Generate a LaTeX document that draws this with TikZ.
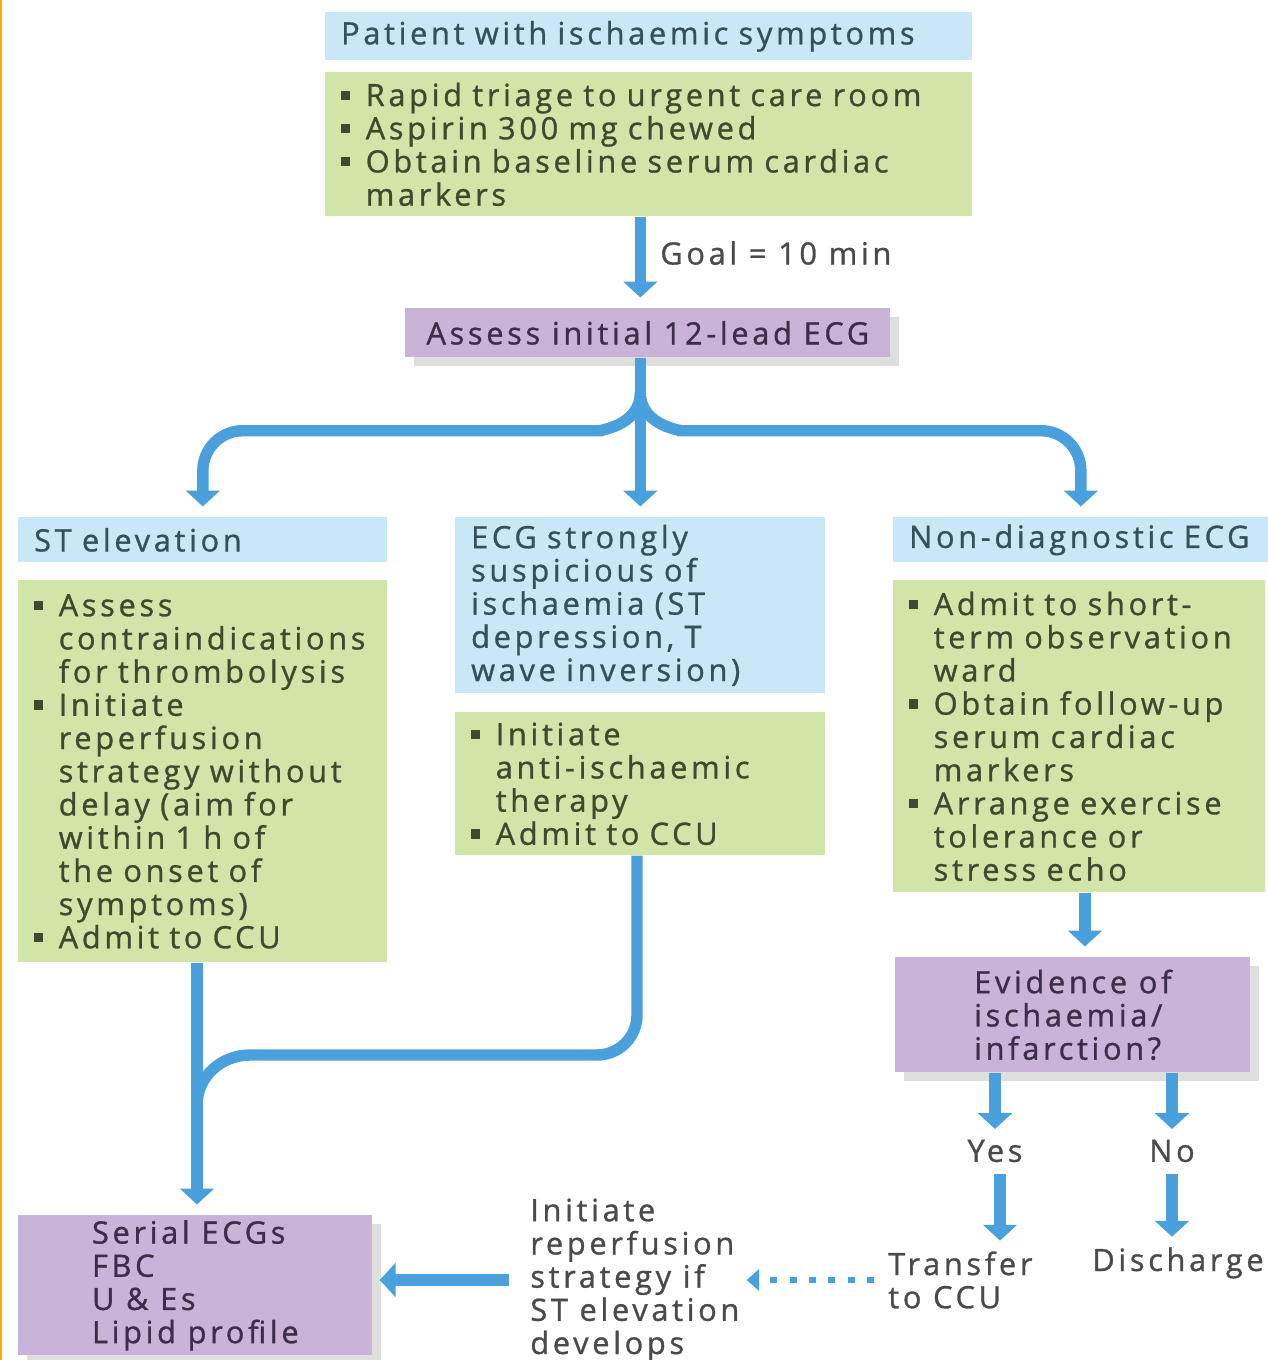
\documentclass[tikz,border=0pt]{standalone}
\usepackage{fontspec}
\setmainfont{Open Sans}[LetterSpace=12, FakeBold=1]
\usetikzlibrary{arrows.meta, calc, shadows, positioning}
\definecolor{boxblue}{HTML}{C8E7F7}
\definecolor{boxgreen}{HTML}{D2E5A9}
\definecolor{boxpurple}{HTML}{C9B3D8}
\definecolor{flowblue}{HTML}{4A9FDD}
\definecolor{inkblue}{HTML}{34505C}
\definecolor{inkgreen}{HTML}{3E4A2E}
\definecolor{inkpurple}{HTML}{3C2D48}
\definecolor{inkgrey}{HTML}{4A4A4A}
\newcommand{\bul}{\makebox[14pt][l]{\raisebox{0.2em}{\rule{0.3em}{0.3em}}}}
\newcommand{\ind}{\hspace*{14pt}}
\tikzstyle{flow} = [draw=flowblue, line width=6.5pt, -{Triangle[width=19pt,length=9pt]}, shorten >=6pt]
\tikzstyle{flowline} = [draw=flowblue, line width=6.5pt]

\begin{document}
\begin{tikzpicture}[x=0.02cm, y=-0.02cm, font=\fontsize{17.5}{18.9}\selectfont,
  boxsize/.style 2 args={anchor=north west, inner xsep=9pt, inner ysep=0pt,
    minimum width=#1*0.02cm, minimum height=#2*0.02cm, text width=#1*0.02cm-18pt, align=left},
  blue/.style={fill=boxblue, text=inkblue},
  green/.style={fill=boxgreen, text=inkgreen},
  purple/.style={fill=boxpurple, text=inkpurple,
    drop shadow={shadow xshift=5pt, shadow yshift=-5pt, fill=black!13, opacity=1}},
  free/.style={inner sep=0pt, text=inkgrey, align=left}]

  \useasboundingbox (0,0) rectangle (1268,1360);
  \draw[orange!70!yellow, line width=1.2pt] (1,0) -- (1,1360);

  % top of the chart
  \node[blue, boxsize={647}{48}] (pt) at (325,12) {Patient with ischaemic symptoms};
  \node[green, boxsize={647}{144}] (tg) at (325,72)
    {\bul Rapid triage to urgent care room\\
     \bul Aspirin 300 mg chewed\\
     \bul Obtain baseline serum cardiac\\
     \ind markers};
  \node[purple, anchor=north west, inner sep=0pt, minimum width=485*0.02cm, minimum height=49*0.02cm] (ecg) at (405,308)
    {Assess initial 12-lead ECG};
  \node[free, anchor=west] (goal) at (660,253) {Goal = 10 min};

  % three columns
  \node[blue, boxsize={369}{45}] (st) at (18,517) {ST elevation};
  \node[green, boxsize={369}{382}] (sg) at (18,580)
    {\bul Assess\\
     \ind contraindications\\
     \ind for thrombolysis\\
     \bul Initiate\\
     \ind reperfusion\\
     \ind strategy without\\
     \ind delay (aim for\\
     \ind within 1 h of\\
     \ind the onset of\\
     \ind symptoms)\\
     \bul Admit to CCU};

  \node[blue, boxsize={370}{176}] (mb) at (455,517)
    {ECG strongly\\
     suspicious of\\
     ischaemia (ST\\
     depression, T\\
     wave inversion)};
  \node[green, boxsize={370}{143}] (mg) at (455,712)
    {\bul Initiate\\
     \ind anti-ischaemic\\
     \ind therapy\\
     \bul Admit to CCU};

  \node[blue, boxsize={375}{45}] (nd) at (893,517) {Non-diagnostic ECG};
  \node[green, boxsize={372}{312}] (ng) at (893,580)
    {\bul Admit to short-\\
     \ind term observation\\
     \ind ward\\
     \bul Obtain follow-up\\
     \ind serum cardiac\\
     \ind markers\\
     \bul Arrange exercise\\
     \ind tolerance or\\
     \ind stress echo};

  % bottom of the chart
  \node[purple, anchor=north west, inner sep=0pt, align=left, minimum width=355*0.02cm, minimum height=115*0.02cm] (ev) at (895,957)
    {Evidence of\\ ischaemia/\\ infarction?};
  \node[free] (yes) at (995,1151) {Yes};
  \node[free] (no) at (1172,1151) {No};
  \node[free, anchor=west] (tr) at (888,1280) {Transfer\\ to CCU};
  \node[free] (dc) at (1178,1263) {Discharge};
  \node[free, anchor=west] (ir) at (530,1280)
    {Initiate\\ reperfusion\\ strategy if\\ ST elevation\\ develops};
  \node[purple, anchor=north west, inner sep=0pt, align=left, minimum width=354*0.02cm, minimum height=140*0.02cm] (se) at (18,1215)
    {Serial ECGs\\ FBC\\ U \& Es\\ Lipid profile};

  % connectors
  \draw[flow] (tg.south -| mb.north) -- (ecg.north -| mb.north);
  \draw[flow] (ecg.south -| mb.north) -- (mb.north);
  \draw[flow, rounded corners=0.8cm] (ecg.south -| mb.north) ++(0,35) to[out=-90,in=0] ++(-80,38) -| (st.north);
  \draw[flow, rounded corners=0.8cm] (ecg.south -| mb.north) ++(0,35) to[out=-90,in=180] ++(80,38) -| (nd.north);

  \coordinate (merge) at (197,1105);
  \draw[flow] (sg.south -| merge) -- (se.north -| merge);
  \draw[flowline] (mg.south -| 637,0) -- (637,1015) to[out=-90,in=0] (597,1055) -- (250,1055) to[out=180,in=90] (merge);

  \draw[flow] (ng.south -| 1085,0) -- (ev.north -| 1085,0);
  \draw[flow] (ev.south -| yes) -- (yes.north);
  \draw[flow] (ev.south -| no) -- (no.north);
  \draw[flow] (yes.south) ++(5,12) -- (tr.north -| 1000,0);
  \draw[flow] (no.south) ++(0,12) -- (dc.north -| no);
  \draw[flowblue, line width=3.4pt, dash pattern=on 4pt off 7pt, -{Triangle[width=12pt,length=7pt]}, shorten <=8pt, shorten >=4pt] (tr.west) -- (ir.east);
  \draw[flow, shorten <=12pt, shorten >=4pt] (ir.west) -- (ir.west -| se.east);
\end{tikzpicture}
\end{document}
